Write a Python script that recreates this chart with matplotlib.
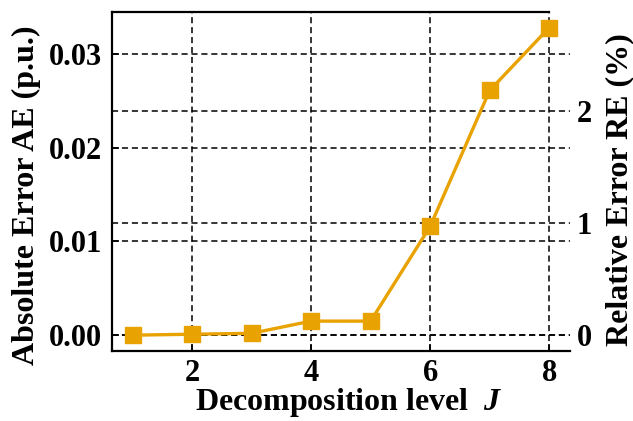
import matplotlib
matplotlib.use("Agg")
import matplotlib.pyplot as plt

levels = [1, 2, 3, 4, 5, 6, 7, 8]
abs_error = [0.0000, 0.0001, 0.0002, 0.0015, 0.0015, 0.0116, 0.0261, 0.0328]
left_ticks = [0.00, 0.01, 0.02, 0.03]
left_labels = ["0.00", "0.01", "0.02", "0.03"]
right_ticks = [0, 1, 2]
right_labels = ["0", "1", "2"]
x_ticks = [2, 4, 6, 8]

plt.rcParams['font.family'] = ['Liberation Serif', 'DejaVu Serif']
plt.rcParams['font.weight'] = 'bold'
plt.rcParams['mathtext.fontset'] = 'custom'
plt.rcParams['mathtext.it'] = 'Liberation Serif:italic:bold'
plt.rcParams['mathtext.rm'] = 'Liberation Serif:bold'

fig = plt.figure(figsize=(6.33, 4.21), dpi=100)
ax = fig.add_axes([0.177, 0.166, 0.7235, 0.8055])
color = '#E8A202'

ax.set_xlim(0.655, 8.35)
ax.set_ylim(-0.0017, 0.03447)
ax.set_xticks(x_ticks)
ax.set_xticklabels([str(t) for t in x_ticks])
ax.set_yticks(left_ticks)
ax.set_yticklabels(left_labels)
ax.tick_params(direction='in', labelsize=22, length=5, width=1.2)
ax.tick_params(axis='x', pad=6)
ax.tick_params(axis='y', pad=7)
ax.grid(True, linestyle=(0, (4, 2.5)), color='black', linewidth=1.1)

ax2 = ax.twinx()
ax2.set_ylim(-0.143, 2.884)
ax2.set_yticks(right_ticks)
ax2.set_yticklabels(right_labels)
ax2.tick_params(direction='in', labelsize=22, length=0, pad=5)
ax2.grid(True, axis='y', linestyle=(0, (4, 2.5)), color='black', linewidth=1.1)

for a in (ax, ax2):
    a.spines['right'].set_visible(False)
    for s in ('left', 'bottom', 'top'):
        a.spines[s].set_linewidth(1.6)
ax2.spines['left'].set_visible(False)
ax2.spines['bottom'].set_visible(False)
ax2.spines['top'].set_visible(False)
ax.spines['top'].set_bounds(0.655, 8)

ax.set_zorder(ax2.get_zorder() + 1)
ax.patch.set_visible(False)

ax.plot(levels, abs_error, color=color, linewidth=2.4, marker='s',
        markersize=12, markerfacecolor=color, markeredgecolor=color, clip_on=False, zorder=5)

ax.set_ylabel('Absolute Error AE (p.u.)', fontsize=23, fontweight='bold', labelpad=6)
ax.yaxis.label.set_y(0.46)
ax2.set_ylabel('Relative Error RE (%)', fontsize=23, fontweight='bold', labelpad=9)
ax2.yaxis.label.set_y(0.475)
ax.set_xlabel(r'Decomposition level  $J$', fontsize=23, fontweight='bold', labelpad=-2)
ax.xaxis.label.set_x(0.517)

fig.savefig('out.png', dpi=100)
